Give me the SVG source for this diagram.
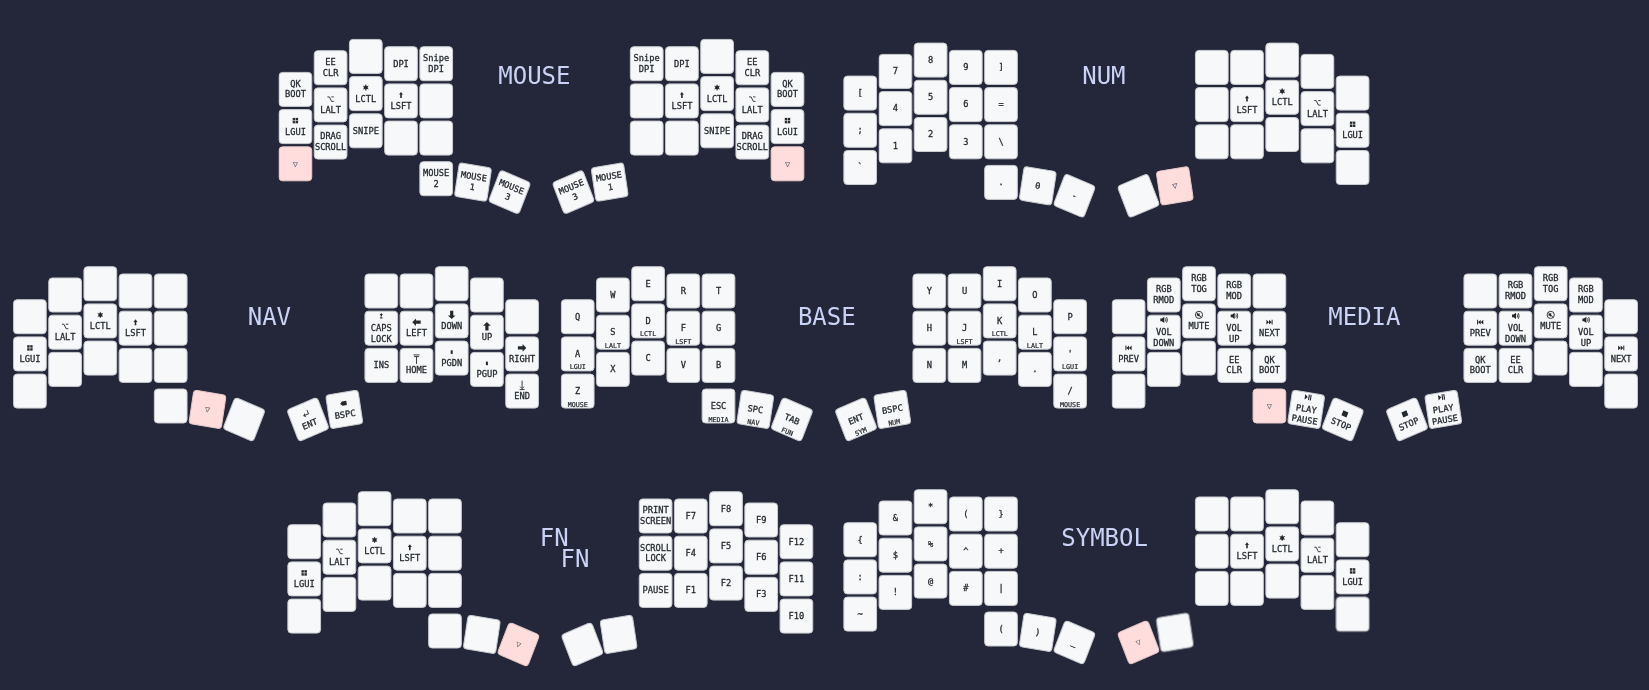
<svg xmlns="http://www.w3.org/2000/svg" width="1649" height="690" viewBox="0 0 1649 690">
<style>
text{font-family:"DejaVu Sans Mono","Liberation Mono",monospace;font-size:8.7px;text-anchor:middle;fill:#24292e;stroke:#24292e;stroke-width:.28}
.h{font-size:6.7px;stroke-width:.2}
.e{fill:#555a66;stroke:none}
.title{font-size:24px;fill:#cad3f5;stroke:none}
.k{fill:#f6f8fa;stroke:#c9cccf;stroke-width:1}
.kh{fill:#ffdddd;stroke:#e6c8c8;stroke-width:1}
.s{fill:none;stroke:#24292e;stroke-width:.9}
.f{fill:#24292e}
</style>
<defs>
<filter id="soft" filterUnits="userSpaceOnUse" x="0" y="0" width="1649" height="690"><feGaussianBlur stdDeviation="0.62"/></filter>
<rect id="k" class="k" x="-16.35" y="-17" width="32.7" height="34" rx="3.5"/>
<rect id="kh" class="kh" x="-16.35" y="-17" width="32.7" height="34" rx="3.5"/>
<g id="gui"><rect class="f" x="-2.7" y="-2.7" width="5.4" height="5.4"/><path d="M0 -2.7V2.7M-2.7 0H2.7" stroke="#f6f8fa" stroke-width=".6"/></g>
<g id="ctl"><circle class="f" r="2"/><path class="s" d="M0 -3V3M-2.6 -1.5L2.6 1.5M-2.6 1.5L2.6 -1.5" stroke-width=".6"/></g>
<path id="sft" class="f" d="M0 -3L-2 -.3H-.8V3H.8V-.3H2Z"/>
<path id="alt" class="s" d="M-3.2 -2H-1.2L1 2.5H3.2M.8 -2H3.2"/>
<path id="left" class="f" d="M-4.2 0L-.5 -3.8V-1.6H4.2V1.6H-.5V3.8Z"/>
<path id="right" class="f" d="M4.2 0L.5 -3.8V-1.6H-4.2V1.6H.5V3.8Z"/>
<path id="up" class="f" d="M0 -4.2L3.8 -.5H1.6V4.2H-1.6V-.5H-3.8Z"/>
<path id="down" class="f" d="M0 4.2L3.8 .5H1.6V-4.2H-1.6V.5H-3.8Z"/>
<path id="home" class="s" d="M-3 -4.5H3M-2.5 -2.8H2.5M0 -2.5V4.5"/>
<path id="end" class="s" d="M-2.5 4.5H2.5M0 3.5V-4.5M-2 1.5L0 3.5L2 1.5"/>
<path id="caps" class="f" d="M0 -3L-1.6 -.8H1.6ZM-.7 -.8H.7V.5H-.7ZM-1.2 1.4H1.2V2.6H-1.2Z"/>
<path id="pg" class="f" d="M-1 -1.8H1V1.8H-1Z"/>
<path id="ent" class="s" d="M2.4 -3V1H-2.6M-1 -.6L-2.6 1L-1 2.6"/>
<path id="bspc" class="f" d="M-3.4 0L-1.2 -2.2H3.2V2.2H-1.2Z"/>
<g id="vol"><path class="f" d="M-3.5 -1.3H-2L.5 -3.2V3.2L-2 1.3H-3.5Z"/><path class="s" d="M1.6 -1.6Q2.6 0 1.6 1.6M2.8 -2.8Q4.4 0 2.8 2.8" stroke-width=".7"/></g>
<g id="mute"><circle class="s" r="3.6" stroke-width="1.1"/><path class="f" d="M-2.2 -.9H-1L.5 -2.2V2.2L-1 .9H-2.2Z"/><path class="s" d="M-2.6 -2.6L2.6 2.6"/></g>
<path id="prev" class="f" d="M-3.2 -2.4H-2.2V2.4H-3.2ZM-2.2 0L.4 -2.4V2.4ZM.4 0L3 -2.4V2.4Z"/>
<path id="next" class="f" d="M3.2 -2.4H2.2V2.4H3.2ZM2.2 0L-.4 -2.4V2.4ZM-.4 0L-3 -2.4V2.4Z"/>
<path id="play" class="f" d="M-3.2 -2.8L-.2 0L-3.2 2.8ZM.4 -2.8H1.5V2.8H.4ZM2.2 -2.8H3.3V2.8H2.2Z"/>
<rect id="stop" class="f" x="-2.7" y="-2.7" width="5.4" height="5.4"/>
</defs>
<rect width="1649" height="690" fill="#24273a"/>
<g filter="url(#soft)" transform="translate(.4 .4)">

<g id="layer-mouse">
<text class="title" x="534" y="83.6">MOUSE</text>
<g id="mouse-left" transform="translate(295 89)">
<g id="mouse-l-00"><use href="#k"/><text y="-2.7">QK</text><text y="8">BOOT</text></g>
<g id="mouse-l-01" transform="translate(0 37.2)"><use href="#k"/><use href="#gui" y="-6"/><text y="8">LGUI</text></g>
<g id="mouse-l-02" transform="translate(0 74.4)"><use href="#kh"/><text class="e" y="2.8">▽</text></g>
<g id="mouse-l-10" transform="translate(35.2 -21.7)"><use href="#k"/><text y="-2.7">EE</text><text y="8">CLR</text></g>
<g id="mouse-l-11" transform="translate(35.2 15.5)"><use href="#k"/><use href="#alt" y="-6"/><text y="8">LALT</text></g>
<g id="mouse-l-12" transform="translate(35.2 52.7)"><use href="#k"/><text y="-2.7">DRAG</text><text y="8">SCROLL</text></g>
<g id="mouse-l-20" transform="translate(70.4 -33)"><use href="#k"/></g>
<g id="mouse-l-21" transform="translate(70.4 4.2)"><use href="#k"/><use href="#ctl" y="-6"/><text y="8">LCTL</text></g>
<g id="mouse-l-22" transform="translate(70.4 41.4)"><use href="#k"/><text y="2.8">SNIPE</text></g>
<g id="mouse-l-30" transform="translate(105.6 -25.7)"><use href="#k"/><text y="2.8">DPI</text></g>
<g id="mouse-l-31" transform="translate(105.6 11.5)"><use href="#k"/><use href="#sft" y="-6"/><text y="8">LSFT</text></g>
<g id="mouse-l-32" transform="translate(105.6 48.7)"><use href="#k"/></g>
<g id="mouse-l-40" transform="translate(140.8 -25.7)"><use href="#k"/><text y="-2.7">Snipe</text><text y="8">DPI</text></g>
<g id="mouse-l-41" transform="translate(140.8 11.5)"><use href="#k"/></g>
<g id="mouse-l-42" transform="translate(140.8 48.7)"><use href="#k"/></g>
<g id="mouse-l-t0" transform="translate(140.8 89.3)"><use href="#k"/><text y="-2.7">MOUSE</text><text y="8">2</text></g>
<g id="mouse-l-t1" transform="translate(177.6 92.7) scale(.951 1) rotate(9) scale(1.05 1)"><use href="#k"/><text y="-2.7">MOUSE</text><text y="8">1</text></g>
<g id="mouse-l-t2" transform="translate(214.2 102.7) scale(.951 1) rotate(22) scale(1.05 1)"><use href="#k"/><text y="-2.7">MOUSE</text><text y="8">3</text></g>
</g>
<g id="mouse-right" transform="translate(646.3 89)">
<g id="mouse-r-00" transform="translate(0 -25.7)"><use href="#k"/><text y="-2.7">Snipe</text><text y="8">DPI</text></g>
<g id="mouse-r-01" transform="translate(0 11.5)"><use href="#k"/></g>
<g id="mouse-r-02" transform="translate(0 48.7)"><use href="#k"/></g>
<g id="mouse-r-10" transform="translate(35.2 -25.7)"><use href="#k"/><text y="2.8">DPI</text></g>
<g id="mouse-r-11" transform="translate(35.2 11.5)"><use href="#k"/><use href="#sft" y="-6"/><text y="8">LSFT</text></g>
<g id="mouse-r-12" transform="translate(35.2 48.7)"><use href="#k"/></g>
<g id="mouse-r-20" transform="translate(70.4 -33)"><use href="#k"/></g>
<g id="mouse-r-21" transform="translate(70.4 4.2)"><use href="#k"/><use href="#ctl" y="-6"/><text y="8">LCTL</text></g>
<g id="mouse-r-22" transform="translate(70.4 41.4)"><use href="#k"/><text y="2.8">SNIPE</text></g>
<g id="mouse-r-30" transform="translate(105.6 -21.7)"><use href="#k"/><text y="-2.7">EE</text><text y="8">CLR</text></g>
<g id="mouse-r-31" transform="translate(105.6 15.5)"><use href="#k"/><use href="#alt" y="-6"/><text y="8">LALT</text></g>
<g id="mouse-r-32" transform="translate(105.6 52.7)"><use href="#k"/><text y="-2.7">DRAG</text><text y="8">SCROLL</text></g>
<g id="mouse-r-40" transform="translate(140.8 0)"><use href="#k"/><text y="-2.7">QK</text><text y="8">BOOT</text></g>
<g id="mouse-r-41" transform="translate(140.8 37.2)"><use href="#k"/><use href="#gui" y="-6"/><text y="8">LGUI</text></g>
<g id="mouse-r-42" transform="translate(140.8 74.4)"><use href="#kh"/><text class="e" y="2.8">▽</text></g>
<g id="mouse-r-t0" transform="translate(-73.3 102.7) scale(.951 1) rotate(-22) scale(1.05 1)"><use href="#k"/><text y="-2.7">MOUSE</text><text y="8">3</text></g>
<g id="mouse-r-t1" transform="translate(-37 92.7) scale(.951 1) rotate(-9) scale(1.05 1)"><use href="#k"/><text y="-2.7">MOUSE</text><text y="8">1</text></g>
</g>
</g>

<g id="layer-num">
<text class="title" x="1103.5" y="83.6">NUM</text>
<g id="num-left" transform="translate(859.8 92.7)">
<g id="num-l-00"><use href="#k"/><text y="2.8">[</text></g>
<g id="num-l-01" transform="translate(0 37.2)"><use href="#k"/><text y="2.8">;</text></g>
<g id="num-l-02" transform="translate(0 74.4)"><use href="#k"/><text y="2.8">`</text></g>
<g id="num-l-10" transform="translate(35.2 -21.7)"><use href="#k"/><text y="2.8">7</text></g>
<g id="num-l-11" transform="translate(35.2 15.5)"><use href="#k"/><text y="2.8">4</text></g>
<g id="num-l-12" transform="translate(35.2 52.7)"><use href="#k"/><text y="2.8">1</text></g>
<g id="num-l-20" transform="translate(70.4 -33)"><use href="#k"/><text y="2.8">8</text></g>
<g id="num-l-21" transform="translate(70.4 4.2)"><use href="#k"/><text y="2.8">5</text></g>
<g id="num-l-22" transform="translate(70.4 41.4)"><use href="#k"/><text y="2.8">2</text></g>
<g id="num-l-30" transform="translate(105.6 -25.7)"><use href="#k"/><text y="2.8">9</text></g>
<g id="num-l-31" transform="translate(105.6 11.5)"><use href="#k"/><text y="2.8">6</text></g>
<g id="num-l-32" transform="translate(105.6 48.7)"><use href="#k"/><text y="2.8">3</text></g>
<g id="num-l-40" transform="translate(140.8 -25.7)"><use href="#k"/><text y="2.8">]</text></g>
<g id="num-l-41" transform="translate(140.8 11.5)"><use href="#k"/><text y="2.8">=</text></g>
<g id="num-l-42" transform="translate(140.8 48.7)"><use href="#k"/><text y="2.8">\</text></g>
<g id="num-l-t0" transform="translate(140.8 89.3)"><use href="#k"/><text y="2.8">.</text></g>
<g id="num-l-t1" transform="translate(177.6 92.7) scale(.951 1) rotate(9) scale(1.05 1)"><use href="#k"/><text y="2.8">0</text></g>
<g id="num-l-t2" transform="translate(214.2 102.7) scale(.951 1) rotate(22) scale(1.05 1)"><use href="#k"/><text y="2.8">-</text></g>
</g>
<g id="num-right" transform="translate(1211.4 92.7)">
<g id="num-r-00" transform="translate(0 -25.7)"><use href="#k"/></g>
<g id="num-r-01" transform="translate(0 11.5)"><use href="#k"/></g>
<g id="num-r-02" transform="translate(0 48.7)"><use href="#k"/></g>
<g id="num-r-10" transform="translate(35.2 -25.7)"><use href="#k"/></g>
<g id="num-r-11" transform="translate(35.2 11.5)"><use href="#k"/><use href="#sft" y="-6"/><text y="8">LSFT</text></g>
<g id="num-r-12" transform="translate(35.2 48.7)"><use href="#k"/></g>
<g id="num-r-20" transform="translate(70.4 -33)"><use href="#k"/></g>
<g id="num-r-21" transform="translate(70.4 4.2)"><use href="#k"/><use href="#ctl" y="-6"/><text y="8">LCTL</text></g>
<g id="num-r-22" transform="translate(70.4 41.4)"><use href="#k"/></g>
<g id="num-r-30" transform="translate(105.6 -21.7)"><use href="#k"/></g>
<g id="num-r-31" transform="translate(105.6 15.5)"><use href="#k"/><use href="#alt" y="-6"/><text y="8">LALT</text></g>
<g id="num-r-32" transform="translate(105.6 52.7)"><use href="#k"/></g>
<g id="num-r-40" transform="translate(140.8 0)"><use href="#k"/></g>
<g id="num-r-41" transform="translate(140.8 37.2)"><use href="#k"/><use href="#gui" y="-6"/><text y="8">LGUI</text></g>
<g id="num-r-42" transform="translate(140.8 74.4)"><use href="#k"/></g>
<g id="num-r-t0" transform="translate(-73.3 102.7) scale(.951 1) rotate(-22) scale(1.05 1)"><use href="#k"/></g>
<g id="num-r-t1" transform="translate(-37 92.7) scale(.951 1) rotate(-9) scale(1.05 1)"><use href="#kh"/><text class="e" y="2.8">▽</text></g>
</g>
</g>

<g id="layer-nav">
<text class="title" x="269" y="324.6">NAV</text>
<g id="nav-left" transform="translate(29.5 316.3)">
<g id="nav-l-00"><use href="#k"/></g>
<g id="nav-l-01" transform="translate(0 37.2)"><use href="#k"/><use href="#gui" y="-6"/><text y="8">LGUI</text></g>
<g id="nav-l-02" transform="translate(0 74.4)"><use href="#k"/></g>
<g id="nav-l-10" transform="translate(35.2 -21.7)"><use href="#k"/></g>
<g id="nav-l-11" transform="translate(35.2 15.5)"><use href="#k"/><use href="#alt" y="-6"/><text y="8">LALT</text></g>
<g id="nav-l-12" transform="translate(35.2 52.7)"><use href="#k"/></g>
<g id="nav-l-20" transform="translate(70.4 -33)"><use href="#k"/></g>
<g id="nav-l-21" transform="translate(70.4 4.2)"><use href="#k"/><use href="#ctl" y="-6"/><text y="8">LCTL</text></g>
<g id="nav-l-22" transform="translate(70.4 41.4)"><use href="#k"/></g>
<g id="nav-l-30" transform="translate(105.6 -25.7)"><use href="#k"/></g>
<g id="nav-l-31" transform="translate(105.6 11.5)"><use href="#k"/><use href="#sft" y="-6"/><text y="8">LSFT</text></g>
<g id="nav-l-32" transform="translate(105.6 48.7)"><use href="#k"/></g>
<g id="nav-l-40" transform="translate(140.8 -25.7)"><use href="#k"/></g>
<g id="nav-l-41" transform="translate(140.8 11.5)"><use href="#k"/></g>
<g id="nav-l-42" transform="translate(140.8 48.7)"><use href="#k"/></g>
<g id="nav-l-t0" transform="translate(140.8 89.3)"><use href="#k"/></g>
<g id="nav-l-t1" transform="translate(177.6 92.7) scale(.951 1) rotate(9) scale(1.05 1)"><use href="#kh"/><text class="e" y="2.8">▽</text></g>
<g id="nav-l-t2" transform="translate(214.2 102.7) scale(.951 1) rotate(22) scale(1.05 1)"><use href="#k"/></g>
</g>
<g id="nav-right" transform="translate(380.9 316.3)">
<g id="nav-r-00" transform="translate(0 -25.7)"><use href="#k"/></g>
<g id="nav-r-01" transform="translate(0 11.5)"><use href="#k"/><use href="#caps" y="-12.3"/><text y="2.5">CAPS</text><text y="13.5">LOCK</text></g>
<g id="nav-r-02" transform="translate(0 48.7)"><use href="#k"/><text y="2.8">INS</text></g>
<g id="nav-r-10" transform="translate(35.2 -25.7)"><use href="#k"/></g>
<g id="nav-r-11" transform="translate(35.2 11.5)"><use href="#k"/><use href="#left" y="-6"/><text y="8">LEFT</text></g>
<g id="nav-r-12" transform="translate(35.2 48.7)"><use href="#k"/><use href="#home" y="-6"/><text y="8">HOME</text></g>
<g id="nav-r-20" transform="translate(70.4 -33)"><use href="#k"/></g>
<g id="nav-r-21" transform="translate(70.4 4.2)"><use href="#k"/><use href="#down" y="-6"/><text y="8">DOWN</text></g>
<g id="nav-r-22" transform="translate(70.4 41.4)"><use href="#k"/><use href="#pg" y="-6"/><text y="8">PGDN</text></g>
<g id="nav-r-30" transform="translate(105.6 -21.7)"><use href="#k"/></g>
<g id="nav-r-31" transform="translate(105.6 15.5)"><use href="#k"/><use href="#up" y="-6"/><text y="8">UP</text></g>
<g id="nav-r-32" transform="translate(105.6 52.7)"><use href="#k"/><use href="#pg" y="-6"/><text y="8">PGUP</text></g>
<g id="nav-r-40" transform="translate(140.8 0)"><use href="#k"/></g>
<g id="nav-r-41" transform="translate(140.8 37.2)"><use href="#k"/><use href="#right" y="-6"/><text y="8">RIGHT</text></g>
<g id="nav-r-42" transform="translate(140.8 74.4)"><use href="#k"/><use href="#end" y="-6"/><text y="8">END</text></g>
<g id="nav-r-t0" transform="translate(-73.3 102.7) scale(.951 1) rotate(-22) scale(1.05 1)"><use href="#k"/><use href="#ent" y="-6"/><text y="8">ENT</text></g>
<g id="nav-r-t1" transform="translate(-37 92.7) scale(.951 1) rotate(-9) scale(1.05 1)"><use href="#k"/><use href="#bspc" y="-6"/><text y="8">BSPC</text></g>
</g>
</g>

<g id="layer-base">
<text class="title" x="826.4" y="324.6">BASE</text>
<g id="base-left" transform="translate(577.3 316.3)">
<g id="base-l-00"><use href="#k"/><text y="2.8">Q</text></g>
<g id="base-l-01" transform="translate(0 37.2)"><use href="#k"/><text y="2.8">A</text><text class="h" y="15.5">LGUI</text></g>
<g id="base-l-02" transform="translate(0 74.4)"><use href="#k"/><text y="2.8">Z</text><text class="h" y="15.5">MOUSE</text></g>
<g id="base-l-10" transform="translate(35.2 -21.7)"><use href="#k"/><text y="2.8">W</text></g>
<g id="base-l-11" transform="translate(35.2 15.5)"><use href="#k"/><text y="2.8">S</text><text class="h" y="15.5">LALT</text></g>
<g id="base-l-12" transform="translate(35.2 52.7)"><use href="#k"/><text y="2.8">X</text></g>
<g id="base-l-20" transform="translate(70.4 -33)"><use href="#k"/><text y="2.8">E</text></g>
<g id="base-l-21" transform="translate(70.4 4.2)"><use href="#k"/><text y="2.8">D</text><text class="h" y="15.5">LCTL</text></g>
<g id="base-l-22" transform="translate(70.4 41.4)"><use href="#k"/><text y="2.8">C</text></g>
<g id="base-l-30" transform="translate(105.6 -25.7)"><use href="#k"/><text y="2.8">R</text></g>
<g id="base-l-31" transform="translate(105.6 11.5)"><use href="#k"/><text y="2.8">F</text><text class="h" y="15.5">LSFT</text></g>
<g id="base-l-32" transform="translate(105.6 48.7)"><use href="#k"/><text y="2.8">V</text></g>
<g id="base-l-40" transform="translate(140.8 -25.7)"><use href="#k"/><text y="2.8">T</text></g>
<g id="base-l-41" transform="translate(140.8 11.5)"><use href="#k"/><text y="2.8">G</text></g>
<g id="base-l-42" transform="translate(140.8 48.7)"><use href="#k"/><text y="2.8">B</text></g>
<g id="base-l-t0" transform="translate(140.8 89.3)"><use href="#k"/><text y="2.8">ESC</text><text class="h" y="15.5">MEDIA</text></g>
<g id="base-l-t1" transform="translate(177.6 92.7) scale(.951 1) rotate(9) scale(1.05 1)"><use href="#k"/><text y="2.8">SPC</text><text class="h" y="15.5">NAV</text></g>
<g id="base-l-t2" transform="translate(214.2 102.7) scale(.951 1) rotate(22) scale(1.05 1)"><use href="#k"/><text y="2.8">TAB</text><text class="h" y="15.5">FUN</text></g>
</g>
<g id="base-right" transform="translate(928.9 316.3)">
<g id="base-r-00" transform="translate(0 -25.7)"><use href="#k"/><text y="2.8">Y</text></g>
<g id="base-r-01" transform="translate(0 11.5)"><use href="#k"/><text y="2.8">H</text></g>
<g id="base-r-02" transform="translate(0 48.7)"><use href="#k"/><text y="2.8">N</text></g>
<g id="base-r-10" transform="translate(35.2 -25.7)"><use href="#k"/><text y="2.8">U</text></g>
<g id="base-r-11" transform="translate(35.2 11.5)"><use href="#k"/><text y="2.8">J</text><text class="h" y="15.5">LSFT</text></g>
<g id="base-r-12" transform="translate(35.2 48.7)"><use href="#k"/><text y="2.8">M</text></g>
<g id="base-r-20" transform="translate(70.4 -33)"><use href="#k"/><text y="2.8">I</text></g>
<g id="base-r-21" transform="translate(70.4 4.2)"><use href="#k"/><text y="2.8">K</text><text class="h" y="15.5">LCTL</text></g>
<g id="base-r-22" transform="translate(70.4 41.4)"><use href="#k"/><text y="2.8">,</text></g>
<g id="base-r-30" transform="translate(105.6 -21.7)"><use href="#k"/><text y="2.8">O</text></g>
<g id="base-r-31" transform="translate(105.6 15.5)"><use href="#k"/><text y="2.8">L</text><text class="h" y="15.5">LALT</text></g>
<g id="base-r-32" transform="translate(105.6 52.7)"><use href="#k"/><text y="2.8">.</text></g>
<g id="base-r-40" transform="translate(140.8 0)"><use href="#k"/><text y="2.8">P</text></g>
<g id="base-r-41" transform="translate(140.8 37.2)"><use href="#k"/><text y="2.8">'</text><text class="h" y="15.5">LGUI</text></g>
<g id="base-r-42" transform="translate(140.8 74.4)"><use href="#k"/><text y="2.8">/</text><text class="h" y="15.5">MOUSE</text></g>
<g id="base-r-t0" transform="translate(-73.3 102.7) scale(.951 1) rotate(-22) scale(1.05 1)"><use href="#k"/><text y="2.8">ENT</text><text class="h" y="15.5">SYM</text></g>
<g id="base-r-t1" transform="translate(-37 92.7) scale(.951 1) rotate(-9) scale(1.05 1)"><use href="#k"/><text y="2.8">BSPC</text><text class="h" y="15.5">NUM</text></g>
</g>
</g>

<g id="layer-media">
<text class="title" x="1364" y="324.6">MEDIA</text>
<g id="media-left" transform="translate(1128.2 316.3)">
<g id="media-l-00"><use href="#k"/></g>
<g id="media-l-01" transform="translate(0 37.2)"><use href="#k"/><use href="#prev" y="-6"/><text y="8">PREV</text></g>
<g id="media-l-02" transform="translate(0 74.4)"><use href="#k"/></g>
<g id="media-l-10" transform="translate(35.2 -21.7)"><use href="#k"/><text y="-2.7">RGB</text><text y="8">RMOD</text></g>
<g id="media-l-11" transform="translate(35.2 15.5)"><use href="#k"/><use href="#vol" y="-12.3"/><text y="2.5">VOL</text><text y="13.5">DOWN</text></g>
<g id="media-l-12" transform="translate(35.2 52.7)"><use href="#k"/></g>
<g id="media-l-20" transform="translate(70.4 -33)"><use href="#k"/><text y="-2.7">RGB</text><text y="8">TOG</text></g>
<g id="media-l-21" transform="translate(70.4 4.2)"><use href="#k"/><use href="#mute" y="-6"/><text y="8">MUTE</text></g>
<g id="media-l-22" transform="translate(70.4 41.4)"><use href="#k"/></g>
<g id="media-l-30" transform="translate(105.6 -25.7)"><use href="#k"/><text y="-2.7">RGB</text><text y="8">MOD</text></g>
<g id="media-l-31" transform="translate(105.6 11.5)"><use href="#k"/><use href="#vol" y="-12.3"/><text y="2.5">VOL</text><text y="13.5">UP</text></g>
<g id="media-l-32" transform="translate(105.6 48.7)"><use href="#k"/><text y="-2.7">EE</text><text y="8">CLR</text></g>
<g id="media-l-40" transform="translate(140.8 -25.7)"><use href="#k"/></g>
<g id="media-l-41" transform="translate(140.8 11.5)"><use href="#k"/><use href="#next" y="-6"/><text y="8">NEXT</text></g>
<g id="media-l-42" transform="translate(140.8 48.7)"><use href="#k"/><text y="-2.7">QK</text><text y="8">BOOT</text></g>
<g id="media-l-t0" transform="translate(140.8 89.3)"><use href="#kh"/><text class="e" y="2.8">▽</text></g>
<g id="media-l-t1" transform="translate(177.6 92.7) scale(.951 1) rotate(9) scale(1.05 1)"><use href="#k"/><use href="#play" y="-12.3"/><text y="2.5">PLAY</text><text y="13.5">PAUSE</text></g>
<g id="media-l-t2" transform="translate(214.2 102.7) scale(.951 1) rotate(22) scale(1.05 1)"><use href="#k"/><use href="#stop" y="-6"/><text y="8">STOP</text></g>
</g>
<g id="media-right" transform="translate(1479.9 316.3)">
<g id="media-r-00" transform="translate(0 -25.7)"><use href="#k"/></g>
<g id="media-r-01" transform="translate(0 11.5)"><use href="#k"/><use href="#prev" y="-6"/><text y="8">PREV</text></g>
<g id="media-r-02" transform="translate(0 48.7)"><use href="#k"/><text y="-2.7">QK</text><text y="8">BOOT</text></g>
<g id="media-r-10" transform="translate(35.2 -25.7)"><use href="#k"/><text y="-2.7">RGB</text><text y="8">RMOD</text></g>
<g id="media-r-11" transform="translate(35.2 11.5)"><use href="#k"/><use href="#vol" y="-12.3"/><text y="2.5">VOL</text><text y="13.5">DOWN</text></g>
<g id="media-r-12" transform="translate(35.2 48.7)"><use href="#k"/><text y="-2.7">EE</text><text y="8">CLR</text></g>
<g id="media-r-20" transform="translate(70.4 -33)"><use href="#k"/><text y="-2.7">RGB</text><text y="8">TOG</text></g>
<g id="media-r-21" transform="translate(70.4 4.2)"><use href="#k"/><use href="#mute" y="-6"/><text y="8">MUTE</text></g>
<g id="media-r-22" transform="translate(70.4 41.4)"><use href="#k"/></g>
<g id="media-r-30" transform="translate(105.6 -21.7)"><use href="#k"/><text y="-2.7">RGB</text><text y="8">MOD</text></g>
<g id="media-r-31" transform="translate(105.6 15.5)"><use href="#k"/><use href="#vol" y="-12.3"/><text y="2.5">VOL</text><text y="13.5">UP</text></g>
<g id="media-r-32" transform="translate(105.6 52.7)"><use href="#k"/></g>
<g id="media-r-40" transform="translate(140.8 0)"><use href="#k"/></g>
<g id="media-r-41" transform="translate(140.8 37.2)"><use href="#k"/><use href="#next" y="-6"/><text y="8">NEXT</text></g>
<g id="media-r-42" transform="translate(140.8 74.4)"><use href="#k"/></g>
<g id="media-r-t0" transform="translate(-73.3 102.7) scale(.951 1) rotate(-22) scale(1.05 1)"><use href="#k"/><use href="#stop" y="-6"/><text y="8">STOP</text></g>
<g id="media-r-t1" transform="translate(-37 92.7) scale(.951 1) rotate(-9) scale(1.05 1)"><use href="#k"/><use href="#play" y="-12.3"/><text y="2.5">PLAY</text><text y="13.5">PAUSE</text></g>
</g>
</g>

<g id="layer-fn">
<text class="title" x="553.9" y="545.3">FN</text>
<text class="title" x="574.6" y="566.3">FN</text>
<g id="fn-left" transform="translate(303.8 541.3)">
<g id="fn-l-00"><use href="#k"/></g>
<g id="fn-l-01" transform="translate(0 37.2)"><use href="#k"/><use href="#gui" y="-6"/><text y="8">LGUI</text></g>
<g id="fn-l-02" transform="translate(0 74.4)"><use href="#k"/></g>
<g id="fn-l-10" transform="translate(35.2 -21.7)"><use href="#k"/></g>
<g id="fn-l-11" transform="translate(35.2 15.5)"><use href="#k"/><use href="#alt" y="-6"/><text y="8">LALT</text></g>
<g id="fn-l-12" transform="translate(35.2 52.7)"><use href="#k"/></g>
<g id="fn-l-20" transform="translate(70.4 -33)"><use href="#k"/></g>
<g id="fn-l-21" transform="translate(70.4 4.2)"><use href="#k"/><use href="#ctl" y="-6"/><text y="8">LCTL</text></g>
<g id="fn-l-22" transform="translate(70.4 41.4)"><use href="#k"/></g>
<g id="fn-l-30" transform="translate(105.6 -25.7)"><use href="#k"/></g>
<g id="fn-l-31" transform="translate(105.6 11.5)"><use href="#k"/><use href="#sft" y="-6"/><text y="8">LSFT</text></g>
<g id="fn-l-32" transform="translate(105.6 48.7)"><use href="#k"/></g>
<g id="fn-l-40" transform="translate(140.8 -25.7)"><use href="#k"/></g>
<g id="fn-l-41" transform="translate(140.8 11.5)"><use href="#k"/></g>
<g id="fn-l-42" transform="translate(140.8 48.7)"><use href="#k"/></g>
<g id="fn-l-t0" transform="translate(140.8 89.3)"><use href="#k"/></g>
<g id="fn-l-t1" transform="translate(177.6 92.7) scale(.951 1) rotate(9) scale(1.05 1)"><use href="#k"/></g>
<g id="fn-l-t2" transform="translate(214.2 102.7) scale(.951 1) rotate(22) scale(1.05 1)"><use href="#kh"/><text class="e" y="2.8">▽</text></g>
</g>
<g id="fn-right" transform="translate(655.2 541.3)">
<g id="fn-r-00" transform="translate(0 -25.7)"><use href="#k"/><text y="-2.7">PRINT</text><text y="8">SCREEN</text></g>
<g id="fn-r-01" transform="translate(0 11.5)"><use href="#k"/><text y="-2.7">SCROLL</text><text y="8">LOCK</text></g>
<g id="fn-r-02" transform="translate(0 48.7)"><use href="#k"/><text y="2.8">PAUSE</text></g>
<g id="fn-r-10" transform="translate(35.2 -25.7)"><use href="#k"/><text y="2.8">F7</text></g>
<g id="fn-r-11" transform="translate(35.2 11.5)"><use href="#k"/><text y="2.8">F4</text></g>
<g id="fn-r-12" transform="translate(35.2 48.7)"><use href="#k"/><text y="2.8">F1</text></g>
<g id="fn-r-20" transform="translate(70.4 -33)"><use href="#k"/><text y="2.8">F8</text></g>
<g id="fn-r-21" transform="translate(70.4 4.2)"><use href="#k"/><text y="2.8">F5</text></g>
<g id="fn-r-22" transform="translate(70.4 41.4)"><use href="#k"/><text y="2.8">F2</text></g>
<g id="fn-r-30" transform="translate(105.6 -21.7)"><use href="#k"/><text y="2.8">F9</text></g>
<g id="fn-r-31" transform="translate(105.6 15.5)"><use href="#k"/><text y="2.8">F6</text></g>
<g id="fn-r-32" transform="translate(105.6 52.7)"><use href="#k"/><text y="2.8">F3</text></g>
<g id="fn-r-40" transform="translate(140.8 0)"><use href="#k"/><text y="2.8">F12</text></g>
<g id="fn-r-41" transform="translate(140.8 37.2)"><use href="#k"/><text y="2.8">F11</text></g>
<g id="fn-r-42" transform="translate(140.8 74.4)"><use href="#k"/><text y="2.8">F10</text></g>
<g id="fn-r-t0" transform="translate(-73.3 102.7) scale(.951 1) rotate(-22) scale(1.05 1)"><use href="#k"/></g>
<g id="fn-r-t1" transform="translate(-37 92.7) scale(.951 1) rotate(-9) scale(1.05 1)"><use href="#k"/></g>
</g>
</g>

<g id="layer-symbol">
<text class="title" x="1104.2" y="545.6">SYMBOL</text>
<g id="symbol-left" transform="translate(859.8 539.3)">
<g id="symbol-l-00"><use href="#k"/><text y="2.8">{</text></g>
<g id="symbol-l-01" transform="translate(0 37.2)"><use href="#k"/><text y="2.8">:</text></g>
<g id="symbol-l-02" transform="translate(0 74.4)"><use href="#k"/><text y="2.8">~</text></g>
<g id="symbol-l-10" transform="translate(35.2 -21.7)"><use href="#k"/><text y="2.8">&amp;</text></g>
<g id="symbol-l-11" transform="translate(35.2 15.5)"><use href="#k"/><text y="2.8">$</text></g>
<g id="symbol-l-12" transform="translate(35.2 52.7)"><use href="#k"/><text y="2.8">!</text></g>
<g id="symbol-l-20" transform="translate(70.4 -33)"><use href="#k"/><text y="2.8">*</text></g>
<g id="symbol-l-21" transform="translate(70.4 4.2)"><use href="#k"/><text y="2.8">%</text></g>
<g id="symbol-l-22" transform="translate(70.4 41.4)"><use href="#k"/><text y="2.8">@</text></g>
<g id="symbol-l-30" transform="translate(105.6 -25.7)"><use href="#k"/><text y="2.8">(</text></g>
<g id="symbol-l-31" transform="translate(105.6 11.5)"><use href="#k"/><text y="2.8">^</text></g>
<g id="symbol-l-32" transform="translate(105.6 48.7)"><use href="#k"/><text y="2.8">#</text></g>
<g id="symbol-l-40" transform="translate(140.8 -25.7)"><use href="#k"/><text y="2.8">}</text></g>
<g id="symbol-l-41" transform="translate(140.8 11.5)"><use href="#k"/><text y="2.8">+</text></g>
<g id="symbol-l-42" transform="translate(140.8 48.7)"><use href="#k"/><text y="2.8">|</text></g>
<g id="symbol-l-t0" transform="translate(140.8 89.3)"><use href="#k"/><text y="2.8">(</text></g>
<g id="symbol-l-t1" transform="translate(177.6 92.7) scale(.951 1) rotate(9) scale(1.05 1)"><use href="#k"/><text y="2.8">)</text></g>
<g id="symbol-l-t2" transform="translate(214.2 102.7) scale(.951 1) rotate(22) scale(1.05 1)"><use href="#k"/><text y="2.8">_</text></g>
</g>
<g id="symbol-right" transform="translate(1211.4 539.3)">
<g id="symbol-r-00" transform="translate(0 -25.7)"><use href="#k"/></g>
<g id="symbol-r-01" transform="translate(0 11.5)"><use href="#k"/></g>
<g id="symbol-r-02" transform="translate(0 48.7)"><use href="#k"/></g>
<g id="symbol-r-10" transform="translate(35.2 -25.7)"><use href="#k"/></g>
<g id="symbol-r-11" transform="translate(35.2 11.5)"><use href="#k"/><use href="#sft" y="-6"/><text y="8">LSFT</text></g>
<g id="symbol-r-12" transform="translate(35.2 48.7)"><use href="#k"/></g>
<g id="symbol-r-20" transform="translate(70.4 -33)"><use href="#k"/></g>
<g id="symbol-r-21" transform="translate(70.4 4.2)"><use href="#k"/><use href="#ctl" y="-6"/><text y="8">LCTL</text></g>
<g id="symbol-r-22" transform="translate(70.4 41.4)"><use href="#k"/></g>
<g id="symbol-r-30" transform="translate(105.6 -21.7)"><use href="#k"/></g>
<g id="symbol-r-31" transform="translate(105.6 15.5)"><use href="#k"/><use href="#alt" y="-6"/><text y="8">LALT</text></g>
<g id="symbol-r-32" transform="translate(105.6 52.7)"><use href="#k"/></g>
<g id="symbol-r-40" transform="translate(140.8 0)"><use href="#k"/></g>
<g id="symbol-r-41" transform="translate(140.8 37.2)"><use href="#k"/><use href="#gui" y="-6"/><text y="8">LGUI</text></g>
<g id="symbol-r-42" transform="translate(140.8 74.4)"><use href="#k"/></g>
<g id="symbol-r-t0" transform="translate(-73.3 102.7) scale(.951 1) rotate(-22) scale(1.05 1)"><use href="#kh"/><text class="e" y="2.8">▽</text></g>
<g id="symbol-r-t1" transform="translate(-37 92.7) scale(.951 1) rotate(-9) scale(1.05 1)"><use href="#k"/></g>
</g>
</g>

</g>
</svg>
